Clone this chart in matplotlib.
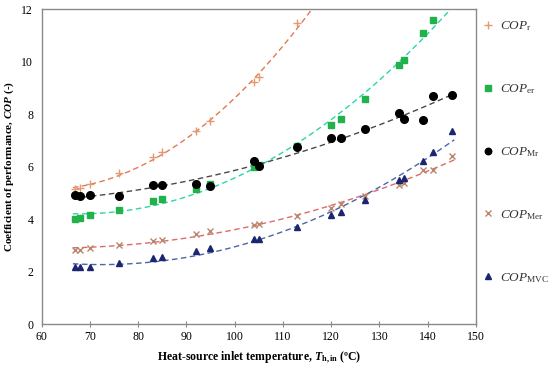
import numpy as np
import matplotlib
matplotlib.use("Agg")
import matplotlib.pyplot as plt
from matplotlib.lines import Line2D

# ---- data ----
T = [67, 68, 70, 76, 83, 85, 92, 95, 104, 105, 113, 120, 122, 127, 134, 135, 139, 141, 145]
cop_r = [5.16, 5.18, 5.32, 5.75, 6.36, 6.55, 7.34, 7.73, 9.21, 9.40, 11.46]
cop_er = [4.02, 4.06, 4.14, 4.36, 4.68, 4.78, 5.16, 5.35, 5.98, 6.05, 6.78, 7.57, 7.82, 8.56,
          9.87, 10.08, 11.08, 11.60]
cop_mr = [4.90, 4.88, 4.90, 4.88, 5.29, 5.29, 5.35, 5.26, 6.20, 6.02, 6.74, 7.10, 7.10, 7.44,
          8.06, 7.81, 7.78, 8.68, 8.72]
cop_mer = [2.84, 2.84, 2.90, 3.03, 3.17, 3.22, 3.42, 3.54, 3.76, 3.80, 4.11, 4.44, 4.56, 4.87,
           5.29, 5.39, 5.86, 5.86, 6.40]
cop_mvc = [2.16, 2.16, 2.18, 2.33, 2.50, 2.56, 2.78, 2.88, 3.23, 3.26, 3.68, 4.14, 4.27, 4.71,
           5.48, 5.58, 6.21, 6.55, 7.35]

labels = [r"$\mathit{COP}_{\mathrm{r}}$", r"$\mathit{COP}_{\mathrm{er}}$", r"$\mathit{COP}_{\mathrm{Mr}}$",
          r"$\mathit{COP}_{\mathrm{Mer}}$", r"$\mathit{COP}_{\mathrm{MVC}}$"]

plt.rcParams['font.family'] = ['Liberation Serif', 'DejaVu Serif']
plt.rcParams['mathtext.fontset'] = 'custom'
plt.rcParams['mathtext.rm'] = 'Liberation Serif'
plt.rcParams['mathtext.it'] = 'Liberation Serif:italic'
plt.rcParams['mathtext.bf'] = 'Liberation Serif:bold'
plt.rcParams['mathtext.bfit'] = 'Liberation Serif:bold:italic'

fig = plt.figure(figsize=(5.5, 3.67), dpi=100)
ax = fig.add_axes([0.0755, 0.117, 0.79, 0.858])

series = [
    (cop_r, '+', '#E39A70', '#E07A55', 6, 1.0),
    (cop_er, 's', '#22B24C', '#2BD6A8', 5, 1.0),
    (cop_mr, 'o', '#000000', '#4a4a4a', 5.5, 1.0),
    (cop_mer, 'x', '#B8866A', '#E06A6A', 5, 1.0),
    (cop_mvc, '^', '#1C2670', '#4A66A8', 5, 1.0),
]

handles = []
for (vals, mk, mcol, lcol, ms, mew), lab in zip(series, labels):
    x = np.array(T[:len(vals)], dtype=float)
    y = np.array(vals, dtype=float)
    coef = np.polyfit(x, y, 2)
    xf = np.linspace(66.5, 145.5, 300)
    ax.plot(xf, np.polyval(coef, xf), ls=(0, (4, 2.5)), color=lcol, lw=1.0, zorder=2)
    ax.plot(x, y, ls='none', marker=mk, color=mcol, ms=ms, mew=mew, zorder=3)
    handles.append(Line2D([], [], ls='none', marker=mk, color=mcol, ms=ms * 0.85, mew=mew))

ax.set_xlim(60, 150)
ax.set_ylim(0, 12)
ax.set_xticks(range(60, 151, 10))
ax.set_yticks(range(0, 13, 2))
for s in ax.spines.values():
    s.set_color('#8a8a8a')
    s.set_linewidth(1.0)
ax.tick_params(axis='x', direction='inout', length=4, color='#8a8a8a', labelsize=8.5, pad=3)
ax.tick_params(axis='y', length=0, labelsize=8.5, pad=6)

ax.set_xlabel(r"Heat-source inlet temperature, $\mathbfit{T}_{\mathbf{h,in}}$ (ºC)",
              fontsize=8.5, fontweight='bold', labelpad=5)
ax.set_ylabel(r"Coefficient of performance, $\mathbfit{COP}$ (-)",
              fontsize=8, fontweight='bold', labelpad=4)

leg = ax.legend(handles, labels, loc='upper left', bbox_to_anchor=(0.995, 0.997),
                frameon=False, fontsize=9.5, labelspacing=3.72, handlelength=0.8,
                handletextpad=0.5, borderaxespad=0.3)
for t in leg.get_texts():
    t.set_color('#333333')

fig.savefig("out.png", dpi=100)
